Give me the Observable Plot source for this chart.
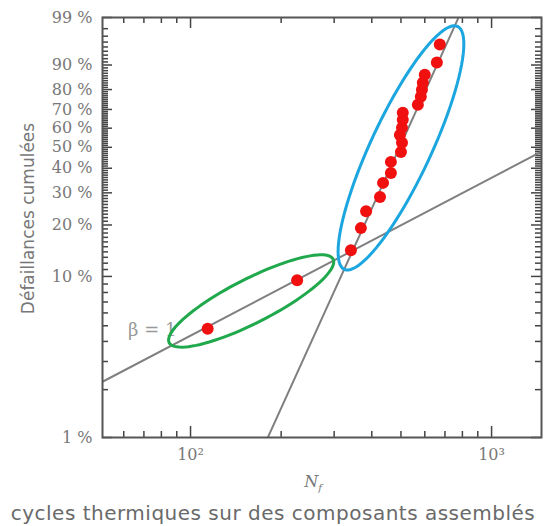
<!DOCTYPE html>
<html>
<head>
<meta charset="utf-8">
<script src="https://cdn.jsdelivr.net/npm/d3@7"></script>
<script src="https://cdn.jsdelivr.net/npm/@observablehq/plot@0.6"></script>
<style>
  html, body { margin: 0; padding: 0; background: #fff; }
  #wrap { position: relative; width: 546px; height: 526px; overflow: hidden; }
  #nf { position: absolute; top: 468px; left: 0; width: 546px; box-sizing: border-box; padding-left: 80px; text-align: center; font-family: "DejaVu Serif", serif; font-style: italic; font-size: 16px; color: #777; line-height: 28px; }
  #nf sub { font-size: 10px; }
  #cap { position: absolute; top: 496px; left: 0; width: 546px; text-align: center; font-family: "DejaVu Sans", sans-serif; font-size: 20px; letter-spacing: 0.5px; color: #6a6a6a; line-height: 34px; white-space: nowrap; }
</style>
</head>
<body>
<div id="wrap">
  <div id="chart"></div>
  <div id="nf">N<sub>f</sub></div>
  <div id="cap">cycles thermiques sur des composants assemblés</div>
</div>
<script>
// ---- data ----
// failure cycles (N_f) and cumulative failure percentage (median ranks)
const cycles  = [114, 226, 341, 368, 383, 426, 436, 463, 463, 500, 504, 496, 504, 507, 507, 569, 582, 587, 591, 600, 658, 673];
const failPct = [4.8, 9.5, 14.3, 19.2, 23.9, 28.5, 33.8, 37.9, 42.9, 47.7, 52.3, 56.4, 60.2, 64.5, 68.2, 72.4, 76.5, 79.9, 83.1, 86.4, 90.8, 95.5];

// two fitted Weibull lines: shape beta, scale eta (cycles)
const fitBeta = [1, 4.2];
const fitEta  = [2250, 540];
const fitXRange = [[51, 1465], [150, 900]];

// y axis labelled ticks
const yTickPct   = [1, 10, 20, 30, 40, 50, 60, 70, 80, 90, 99];
const yTickLabel = ["1 %", "10 %", "20 %", "30 %", "40 %", "50 %", "60 %", "70 %", "80 %", "90 %", "99 %"];
// x axis ticks
const xMajor = [100, 1000];
const xMajorLabel = ["10²", "10³"];
const xMinor = [60, 70, 80, 90, 200, 300, 400, 500, 600, 700, 800, 900];

// annotation ellipses (centres in data units)
const ellCycles = [159, 500];
const ellPct    = [7.1, 49.7];

const betaLabel = {x: 62, pct: 4.7, text: "β = 1"};

// ---- helpers ----
const W = p => Math.log(-Math.log(1 - p / 100));   // Weibull probability transform
const points = cycles.map((c, i) => ({x: c, w: W(failPct[i])}));
const fits = fitBeta.map((b, i) => fitXRange[i].map(x => ({x, w: b * (Math.log(x) - Math.log(fitEta[i])), id: i}))).flat();
const yMinor = d3.range(2, 99).filter(p => !yTickPct.includes(p));
const labelMap = new Map(yTickPct.map((p, i) => [W(p), yTickLabel[i]]));
const xLabelMap = new Map(xMajor.map((v, i) => [v, xMajorLabel[i]]));

function ellipseSymbol(k, angleDeg) {
  const a = angleDeg * Math.PI / 180, ca = Math.cos(a), sa = Math.sin(a);
  return {
    draw(ctx, size) {
      const rx = Math.sqrt(size / Math.PI), ry = rx * k, n = 96;
      for (let i = 0; i <= n; i++) {
        const t = 2 * Math.PI * i / n;
        const ex = rx * Math.cos(t), ey = ry * Math.sin(t);
        const px = ex * ca - ey * sa, py = ex * sa + ey * ca;
        if (i === 0) ctx.moveTo(px, py); else ctx.lineTo(px, py);
      }
      ctx.closePath();
    }
  };
}

const W0 = 546, H0 = 470, mT = 17, mB = 33, mL = 102, mR = 5;
const fw = W0 - mL - mR, fh = H0 - mT - mB;
const tk = {stroke: "#444", strokeWidth: 1.5};

const chart = Plot.plot({
  width: W0,
  height: H0,
  marginTop: mT,
  marginBottom: mB,
  marginLeft: mL,
  marginRight: mR,
  style: {fontFamily: "DejaVu Serif, serif", fontSize: "16px", color: "#777", background: "#fff"},
  x: {type: "log", domain: [51, 1465], label: null},
  y: {type: "linear", domain: [W(1), W(99)], label: null},
  marks: [
    // inward ticks: left / right
    Plot.tickY(yMinor, {y: W, insetRight: fw - 6, ...tk}),
    Plot.tickY(yTickPct, {y: W, insetRight: fw - 10, ...tk}),
    Plot.tickY(yMinor, {y: W, insetLeft: fw - 6, ...tk}),
    Plot.tickY(yTickPct, {y: W, insetLeft: fw - 10, ...tk}),
    // inward ticks: bottom / top
    Plot.tickX(xMinor, {x: d => d, insetTop: fh - 6, ...tk}),
    Plot.tickX(xMajor, {x: d => d, insetTop: fh - 11, ...tk}),
    Plot.tickX(xMinor, {x: d => d, insetBottom: fh - 6, ...tk}),
    Plot.tickX(xMajor, {x: d => d, insetBottom: fh - 11, ...tk}),
    // fitted lines
    Plot.line(fits, {x: "x", y: "w", z: "id", stroke: "#808080", strokeWidth: 2, clip: true}),
    // beta label
    Plot.text([betaLabel], {x: "x", y: d => W(d.pct), text: "text", textAnchor: "start", fill: "#999", fontSize: 18, fontFamily: "DejaVu Serif, serif"}),
    // points
    Plot.dot(points, {x: "x", y: "w", r: 6, fill: "#f01010", stroke: "none"}),
    // ellipses
    Plot.dot([{x: ellCycles[0], w: W(ellPct[0])}], {x: "x", y: "w", r: 92, symbol: ellipseSymbol(0.24, -27), fill: "none", stroke: "#1fa84c", strokeWidth: 3}),
    Plot.dot([{x: ellCycles[1], w: W(ellPct[1])}], {x: "x", y: "w", r: 134, symbol: ellipseSymbol(0.225, -65), fill: "none", stroke: "#1ba6df", strokeWidth: 3}),
    // tick labels
    Plot.axisY({anchor: "left", ticks: yTickPct.map(W), tickSize: 0, tickPadding: 10, tickFormat: w => labelMap.get(w), fill: "#777", label: null}),
    Plot.axisX({anchor: "bottom", ticks: xMajor, tickSize: 0, tickPadding: 11, tickFormat: v => xLabelMap.get(v), fill: "#777", label: null}),
    // y title
    Plot.text(["Défaillances cumulées"], {frameAnchor: "left", textAnchor: "middle", dx: -74, dy: -9, rotate: -90, fill: "#777", fontSize: 17, fontFamily: "DejaVu Sans, sans-serif"}),
    // frame
    Plot.frame({stroke: "#555", strokeWidth: 2})
  ]
});
document.getElementById("chart").appendChild(chart);
</script>
</body>
</html>
